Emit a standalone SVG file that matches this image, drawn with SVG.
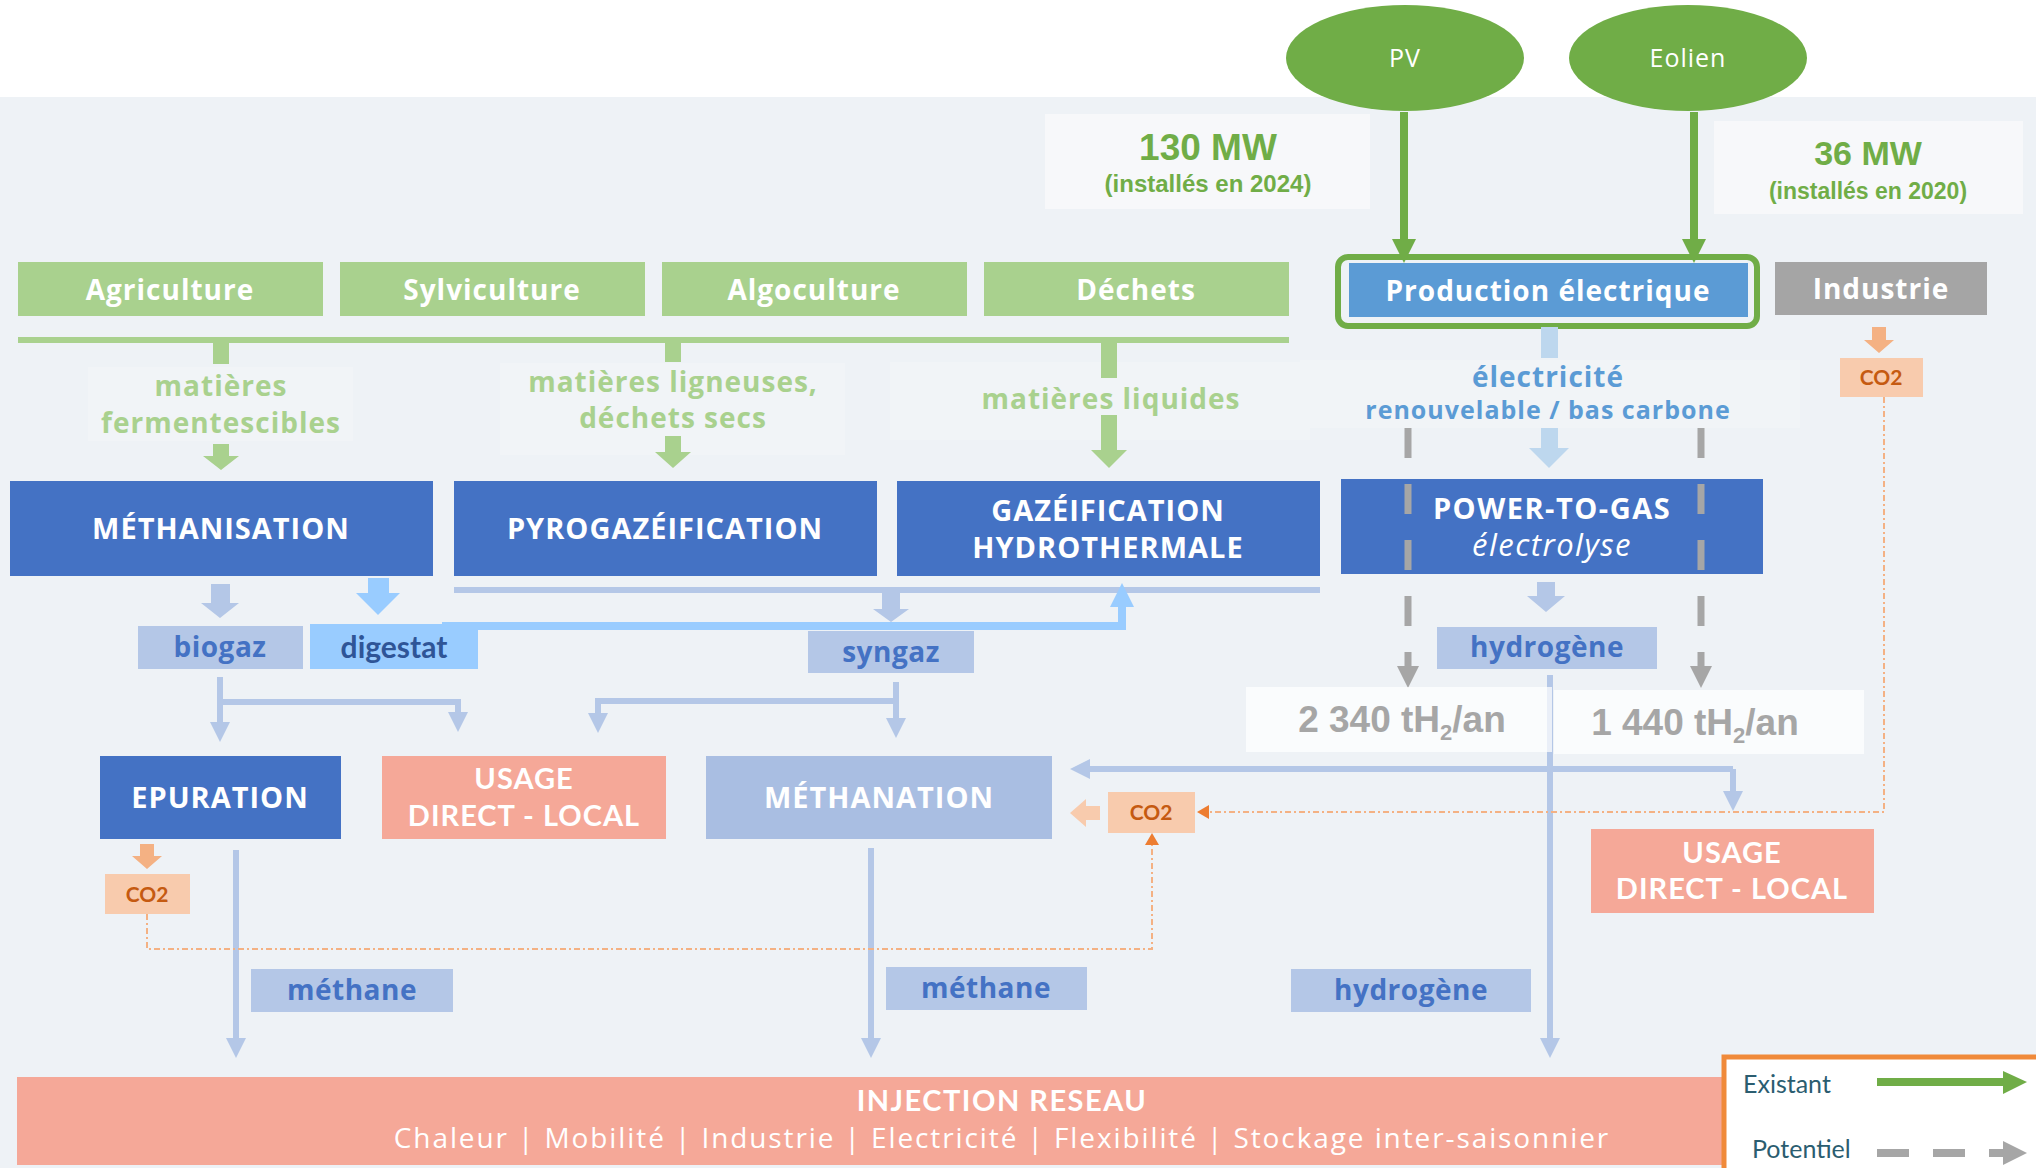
<svg xmlns="http://www.w3.org/2000/svg" width="2036" height="1168" viewBox="0 0 2036 1168">
  <style>
    .os { font-family: "Open Sans", "DejaVu Sans", sans-serif; font-weight: 700; letter-spacing: 1px; }
    .reg { font-weight: 400; }
    .lt { font-family: Lato, "Liberation Sans", sans-serif; }
    .ar { font-family: "Liberation Sans", Arial, sans-serif; font-weight: 700; }
    .w { fill: #ffffff; }
    .src { fill: #a9d18e; }
    .proc { fill: #4472c4; }
    .ptxt { font-size: 29px; }
    .stxt { font-size: 28px; }
    .tag { fill: #b4c7e7; }
    .tagt { fill: #4472c4; font-size: 28px; letter-spacing: 0.5px; }
    .use { fill: #f5a898; }
    .uset { font-size: 29px; font-weight: 700; letter-spacing: 1px; }
    .co2 { fill: #f8cbad; }
    .co2t { fill: #c55a11; font-weight: 700; font-size: 21px; }
    .soft { fill: #f1f4f7; }
    .val { fill: #ffffff; fill-opacity: 0.72; }
    .valt { fill: #a6a6a6; font-size: 37px; }
    .gtxt { fill: #a9d18e; font-size: 28px; }
    .mw { fill: #70ad47; }
    .ln { fill: none; stroke: #b4c7e7; stroke-width: 6; }
    .dot { fill: none; stroke: #f4b183; stroke-width: 2; stroke-dasharray: 6 3 2 3; }
    .dash { fill: none; stroke: #a6a6a6; stroke-width: 7; stroke-dasharray: 30 26; }
    .grn { fill: none; stroke: #70ad47; stroke-width: 8; }
  </style>
  <defs>
    <marker id="mBlue" markerUnits="userSpaceOnUse" markerWidth="20" markerHeight="20" refX="2" refY="10" orient="auto">
      <path d="M0,0 L20,10 L0,20 z" fill="#b4c7e7"/>
    </marker>
    <marker id="mGreen" markerUnits="userSpaceOnUse" markerWidth="24" markerHeight="24" refX="2" refY="12" orient="auto">
      <path d="M0,0 L24,12 L0,24 z" fill="#70ad47"/>
    </marker>
    <marker id="mGray" markerUnits="userSpaceOnUse" markerWidth="22" markerHeight="22" refX="2" refY="11" orient="auto">
      <path d="M0,0 L22,11 L0,22 z" fill="#a6a6a6"/>
    </marker>
    <marker id="mOrange" markerUnits="userSpaceOnUse" markerWidth="12" markerHeight="14" refX="1" refY="7" orient="auto">
      <path d="M0,0 L12,7 L0,14 z" fill="#ed7d31"/>
    </marker>
    <marker id="mDig" markerUnits="userSpaceOnUse" markerWidth="24" markerHeight="24" refX="2" refY="12" orient="auto">
      <path d="M0,0 L24,12 L0,24 z" fill="#99ccff"/>
    </marker>
  </defs>

  <!-- canvas -->
  <rect x="0" y="0" width="2036" height="1168" fill="#ffffff"/>
  <rect x="0" y="97" width="2036" height="1071" fill="#eef2f6"/>

  <!-- soft label panels -->
  <rect class="soft" x="88" y="367" width="265" height="74"/>
  <rect class="soft" x="500" y="363" width="345" height="92"/>
  <rect class="soft" x="890" y="362" width="420" height="78"/>
  <rect class="soft" x="1300" y="360" width="500" height="68"/>

  <!-- renewable sources -->
  <g id="pv">
    <ellipse cx="1405" cy="58" rx="119" ry="53" fill="#70ad47"/>
    <text class="os reg w" x="1405" y="67" font-size="25" text-anchor="middle">PV</text>
  </g>
  <g id="eolien">
    <ellipse cx="1688" cy="58" rx="119" ry="53" fill="#70ad47"/>
    <text class="os reg w" x="1688" y="67" font-size="25" text-anchor="middle">Eolien</text>
  </g>
  <g id="pv-capacity">
    <rect x="1045" y="114" width="325" height="95" fill="#f7f8fa"/>
    <text class="ar mw" x="1208" y="160" font-size="37" text-anchor="middle">130 MW</text>
    <text class="ar mw" x="1208" y="192" font-size="24" text-anchor="middle">(installés en 2024)</text>
  </g>
  <g id="eolien-capacity">
    <rect x="1714" y="121" width="309" height="93" fill="#f7f8fa"/>
    <text class="ar mw" x="1868" y="165" font-size="34" text-anchor="middle">36 MW</text>
    <text class="ar mw" x="1868" y="199" font-size="23" text-anchor="middle">(installés en 2020)</text>
  </g>

  <!-- feedstock sources -->
  <g id="agriculture">
    <rect class="src" x="18" y="262" width="305" height="54"/>
    <text class="os w stxt" x="170" y="300" text-anchor="middle">Agriculture</text>
  </g>
  <g id="sylviculture">
    <rect class="src" x="340" y="262" width="305" height="54"/>
    <text class="os w stxt" x="492" y="300" text-anchor="middle">Sylviculture</text>
  </g>
  <g id="algoculture">
    <rect class="src" x="662" y="262" width="305" height="54"/>
    <text class="os w stxt" x="814" y="300" text-anchor="middle">Algoculture</text>
  </g>
  <g id="dechets">
    <rect class="src" x="984" y="262" width="305" height="54"/>
    <text class="os w stxt" x="1136" y="300" text-anchor="middle">Déchets</text>
  </g>
  <g id="production-electrique">
    <rect x="1338" y="257" width="419" height="69" rx="10" fill="none" stroke="#70ad47" stroke-width="6"/>
    <rect x="1349" y="263" width="399" height="54" fill="#5b9bd5"/>
    <text class="os w stxt" x="1548" y="301" text-anchor="middle">Production électrique</text>
  </g>
  <g id="industrie">
    <rect x="1775" y="262" width="212" height="53" fill="#a5a5a5"/>
    <text class="os w stxt" x="1881" y="299" text-anchor="middle">Industrie</text>
  </g>

  <!-- flow labels -->
  <g id="label-fermentescibles">
    <text class="os gtxt" x="221" y="396" text-anchor="middle">matières</text>
    <text class="os gtxt" x="221" y="433" text-anchor="middle">fermentescibles</text>
  </g>
  <g id="label-ligneuses">
    <text class="os gtxt" x="673" y="392" text-anchor="middle">matières ligneuses,</text>
    <text class="os gtxt" x="673" y="428" text-anchor="middle">déchets secs</text>
  </g>
  <g id="label-liquides">
    <text class="os gtxt" x="1111" y="409" text-anchor="middle">matières liquides</text>
  </g>
  <g id="label-electricite">
    <text class="os stxt" x="1548" y="387" fill="#5b9bd5" text-anchor="middle">électricité</text>
    <text class="os" x="1548" y="419" font-size="25" fill="#5b9bd5" text-anchor="middle">renouvelable / bas carbone</text>
  </g>

  <!-- conversion processes -->
  <g id="methanisation">
    <rect class="proc" x="10" y="481" width="423" height="95"/>
    <text class="os w ptxt" x="221" y="539" text-anchor="middle">MÉTHANISATION</text>
  </g>
  <g id="pyrogazeification">
    <rect class="proc" x="454" y="481" width="423" height="95"/>
    <text class="os w ptxt" x="665" y="539" text-anchor="middle">PYROGAZÉIFICATION</text>
  </g>
  <g id="gazeification-hydrothermale">
    <rect class="proc" x="897" y="481" width="423" height="95"/>
    <text class="os w ptxt" x="1108" y="521" text-anchor="middle">GAZÉIFICATION</text>
    <text class="os w ptxt" x="1108" y="558" text-anchor="middle">HYDROTHERMALE</text>
  </g>
  <g id="power-to-gas">
    <rect class="proc" x="1341" y="479" width="422" height="95"/>
    <text class="os w ptxt" x="1552" y="519" text-anchor="middle" style="letter-spacing:1.5px">POWER-TO-GAS</text>
    <text class="os reg w" x="1552" y="556" font-size="31" font-style="italic" text-anchor="middle" style="letter-spacing:1.5px">électrolyse</text>
  </g>

  <!-- intermediate gases -->
  <g id="biogaz">
    <rect class="tag" x="138" y="626" width="165" height="43"/>
    <text class="os tagt" x="220" y="657" text-anchor="middle">biogaz</text>
  </g>
  <g id="digestat">
    <rect x="310" y="624" width="168" height="45" fill="#99ccff"/>
    <text class="lt" x="394" y="658" font-size="30" font-weight="700" fill="#2f5597" text-anchor="middle">digestat</text>
  </g>
  <g id="syngaz">
    <rect class="tag" x="808" y="631" width="166" height="42"/>
    <text class="os tagt" x="891" y="662" text-anchor="middle">syngaz</text>
  </g>
  <g id="hydrogene">
    <rect class="tag" x="1437" y="627" width="220" height="42"/>
    <text class="os tagt" x="1547" y="657" text-anchor="middle">hydrogène</text>
  </g>

  <!-- end uses -->
  <g id="epuration">
    <rect class="proc" x="100" y="756" width="241" height="83"/>
    <text class="os w ptxt" x="220" y="808" text-anchor="middle">EPURATION</text>
  </g>
  <g id="usage-local-biogaz">
    <rect class="use" x="382" y="756" width="284" height="83"/>
    <text class="lt w uset" x="524" y="789" text-anchor="middle">USAGE</text>
    <text class="lt w uset" x="524" y="826" text-anchor="middle">DIRECT - LOCAL</text>
  </g>
  <g id="methanation">
    <rect x="706" y="756" width="346" height="83" fill="#a9bee2"/>
    <text class="os w ptxt" x="879" y="808" text-anchor="middle">MÉTHANATION</text>
  </g>
  <g id="usage-local-hydrogene">
    <rect class="use" x="1591" y="829" width="283" height="84"/>
    <text class="lt w uset" x="1732" y="863" text-anchor="middle">USAGE</text>
    <text class="lt w uset" x="1732" y="899" text-anchor="middle">DIRECT - LOCAL</text>
  </g>
  <g id="co2-industrie">
    <rect class="co2" x="1840" y="358" width="83" height="39"/>
    <text class="lt co2t" x="1881" y="385" text-anchor="middle">CO2</text>
  </g>
  <g id="co2-epuration">
    <rect class="co2" x="105" y="874" width="85" height="40"/>
    <text class="lt co2t" x="147" y="902" text-anchor="middle">CO2</text>
  </g>
  <g id="co2-methanation">
    <rect class="co2" x="1108" y="792" width="87" height="41"/>
    <text class="lt co2t" x="1151" y="820" text-anchor="middle">CO2</text>
  </g>
  <g id="methane-epuration">
    <rect class="tag" x="251" y="969" width="202" height="43"/>
    <text class="os tagt" x="352" y="1000" text-anchor="middle">méthane</text>
  </g>
  <g id="methane-methanation">
    <rect class="tag" x="886" y="967" width="201" height="43"/>
    <text class="os tagt" x="986" y="998" text-anchor="middle">méthane</text>
  </g>
  <g id="hydrogene-reseau">
    <rect class="tag" x="1291" y="969" width="240" height="43"/>
    <text class="os tagt" x="1411" y="1000" text-anchor="middle">hydrogène</text>
  </g>
  <g id="injection-reseau">
    <rect class="use" x="17" y="1077" width="1710" height="88"/>
    <text class="lt w" x="1002" y="1111" font-size="29" font-weight="700" text-anchor="middle" style="letter-spacing:1.5px">INJECTION RESEAU</text>
    <text class="os reg w" x="1002" y="1148" font-size="28" text-anchor="middle" style="letter-spacing:1.9px">Chaleur | Mobilité | Industrie | Electricité | Flexibilité | Stockage inter-saisonnier</text>
  </g>

  <!-- connectors -->
  <g id="connectors">
    <!-- renewable feeds -->
    <path class="grn" d="M1404,112 V241" marker-end="url(#mGreen)"/>
    <path class="grn" d="M1694,112 V241" marker-end="url(#mGreen)"/>
    <!-- feedstock collector -->
    <path d="M18,340 H1289" stroke="#a9d18e" stroke-width="6" fill="none"/>
    <rect class="src" x="213" y="340" width="16" height="24"/>
    <rect class="src" x="665" y="340" width="16" height="22"/>
    <rect class="src" x="1101" y="340" width="16" height="38"/>
    <polygon class="src" points="213,444 229,444 229,456 239,456 221,470 203,456 213,456"/>
    <polygon class="src" points="665,436 681,436 681,452 691,452 673,468 655,452 665,452"/>
    <polygon class="src" points="1101,415 1117,415 1117,450 1127,450 1109,468 1091,450 1101,450"/>
    <!-- electricity to power-to-gas -->
    <rect x="1541" y="327" width="17" height="31" fill="#bdd7ee"/>
    <polygon fill="#bdd7ee" points="1541,428 1558,428 1558,448 1569,448 1549,468 1529,448 1541,448"/>
    <path class="dash" d="M1408,428 V668" marker-end="url(#mGray)"/>
    <path class="dash" d="M1701,428 V668" marker-end="url(#mGray)"/>
    <!-- process outputs -->
    <polygon class="tag" points="1537,582 1555,582 1555,596 1565,596 1546,612 1527,596 1537,596"/>
    <polygon class="tag" points="211,584 230,584 230,603 239,603 220,618 201,603 211,603"/>
    <polygon fill="#99ccff" points="368,578 389,578 389,593 400,593 378,615 356,593 368,593"/>
    <path class="ln" d="M454,590 H1320" stroke-width="5"/>
    <polygon class="tag" points="882,590 900,590 900,609 909,609 891,622 873,609 882,609"/>
    <path d="M442,626 H1122 V605" fill="none" stroke="#99ccff" stroke-width="8" marker-end="url(#mDig)"/>
    <!-- gas distribution -->
    <path class="ln" d="M220,677 V724" marker-end="url(#mBlue)"/>
    <path class="ln" d="M220,702 H458 V714" marker-end="url(#mBlue)"/>
    <path class="ln" d="M896,682 V720" marker-end="url(#mBlue)"/>
    <path class="ln" d="M896,701 H598 V715" marker-end="url(#mBlue)"/>
    <path class="ln" d="M1733,769 H1088" marker-end="url(#mBlue)"/>
    <path class="ln" d="M1733,769 V793" marker-end="url(#mBlue)"/>
    <!-- grid injection -->
    <path class="ln" d="M236,850 V1040" marker-end="url(#mBlue)"/>
    <path class="ln" d="M871,848 V1040" marker-end="url(#mBlue)"/>
    <path class="ln" d="M1550,675 V1040" marker-end="url(#mBlue)"/>
    <!-- CO2 loops -->
    <polygon fill="#f4b183" points="1872,327 1886,327 1886,340 1894,340 1879,353 1864,340 1872,340"/>
    <polygon fill="#f4b183" points="140,844 154,844 154,856 162,856 147,869 132,856 140,856"/>
    <polygon class="co2" points="1100,806 1086,806 1086,799 1070,813 1086,827 1086,820 1100,820"/>
    <path class="dot" d="M1884,397 V812 H1208" marker-end="url(#mOrange)"/>
    <path class="dot" d="M147,914 V949 H1152 V844" marker-end="url(#mOrange)"/>
  </g>

  <!-- hydrogen production figures -->
  <g id="h2-pv">
    <rect class="val" x="1246" y="687" width="306" height="65"/>
    <text class="ar valt" x="1402" y="732" text-anchor="middle">2 340 tH<tspan font-size="22" dy="8">2</tspan><tspan dy="-8">/an</tspan></text>
  </g>
  <g id="h2-eolien">
    <rect class="val" x="1554" y="690" width="310" height="64"/>
    <text class="ar valt" x="1695" y="735" text-anchor="middle">1 440 tH<tspan font-size="22" dy="8">2</tspan><tspan dy="-8">/an</tspan></text>
  </g>

  <!-- legend -->
  <g id="legend">
    <rect x="1724" y="1057" width="330" height="125" fill="#ffffff" stroke="#f08a3a" stroke-width="5"/>
    <text class="lt" x="1743" y="1093" font-size="25" fill="#2b5d70">Existant</text>
    <text class="lt" x="1752" y="1158" font-size="25" fill="#2b5d70">Potentiel</text>
    <path d="M1877,1082 H2004" stroke="#70ad47" stroke-width="8"/>
    <polygon points="2003,1071 2027,1082 2003,1094" fill="#70ad47"/>
    <rect x="1877" y="1149" width="32" height="8" fill="#a6a6a6"/>
    <rect x="1933" y="1149" width="32" height="8" fill="#a6a6a6"/>
    <rect x="1989" y="1149" width="15" height="8" fill="#a6a6a6"/>
    <polygon points="2003,1141 2027,1153 2003,1165" fill="#a6a6a6"/>
  </g>
</svg>
